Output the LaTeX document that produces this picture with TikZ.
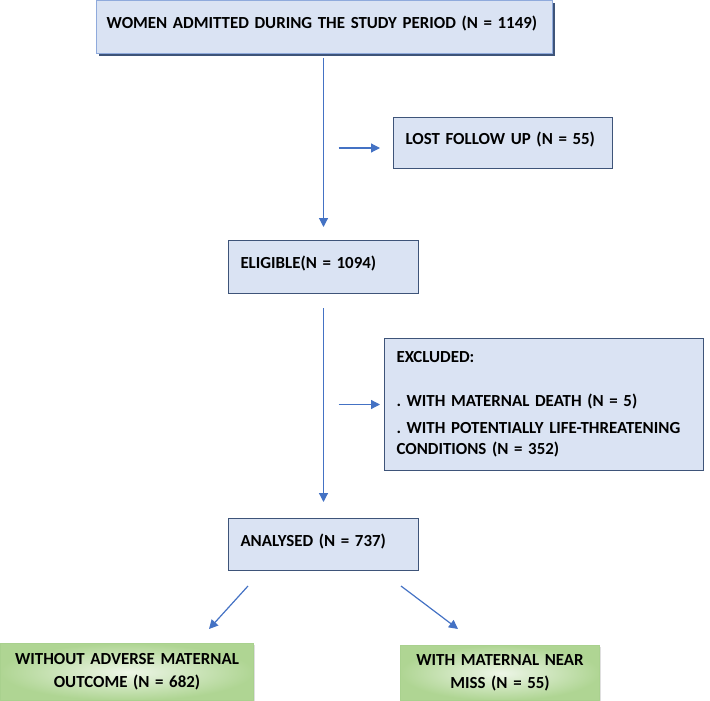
\documentclass[tikz,border=0pt]{standalone}
\usepackage{fontspec}
\setmainfont{Carlito}
\frenchspacing
\usetikzlibrary{arrows.meta, shadows}
\definecolor{boxfill}{HTML}{DAE3F3}
\definecolor{boxline}{HTML}{3E5479}
\definecolor{topline}{HTML}{8FAADC}
\definecolor{arrowblue}{HTML}{4472C4}
\definecolor{greenline}{HTML}{A9D18E}
\definecolor{greendark}{HTML}{AFD593}
\definecolor{greenlight}{HTML}{EEF6E8}

\begin{document}
\begin{tikzpicture}[x=1pt, y=-1pt,
	font=\fontsize{16.9}{21}\selectfont\bfseries,
	bluebox/.style={draw=boxline, fill=boxfill, line width=1pt, anchor=north west, align=left, inner xsep=12pt, inner ysep=4pt},
	greenbox/.style={draw=greenline, line width=1pt, outer color=greendark, inner color=greenlight, anchor=north west, align=center, inner sep=4pt, drop shadow={opacity=.25, shadow xshift=1.5pt, shadow yshift=-1.5pt}},
	arr/.style={draw=arrowblue, line width=1.2pt, -{Triangle[width=9pt,length=9pt]}}]
	\useasboundingbox (0,0) rectangle (710,701);

	\node[bluebox, draw=topline, line width=1.3pt, drop shadow={shadow xshift=2pt, shadow yshift=-2pt, fill=boxline, opacity=1}, inner xsep=10pt, text width=436pt, text height=23.5pt, text depth=21.5pt] (admitted) at (96,0) {WOMEN ADMITTED DURING THE STUDY PERIOD (N = 1149)};
	\node[bluebox, text width=195pt, text height=22.5pt, text depth=20.5pt] (lost) at (393,117) {LOST FOLLOW UP (N = 55)};
	\node[bluebox, text width=166pt, text height=23.5pt, text depth=21.5pt] (eligible) at (228,240) {ELIGIBLE(N = 1094)};
	\node[bluebox, text width=295pt, text height=19.5pt, text depth=104.5pt] (excluded) at (384,338) {EXCLUDED:\\[23pt]
		. WITH MATERNAL DEATH (N = 5)\\[6pt]
		. WITH POTENTIALLY LIFE-THREATENING\\
		CONDITIONS (N = 352)};
	\node[bluebox, text width=166pt, text height=23.5pt, text depth=20.5pt] (analysed) at (228,518) {ANALYSED (N = 737)};

	\node[greenbox, text width=245pt, minimum height=57pt] (withoutadverse) at (0,643) {WITHOUT ADVERSE MATERNAL\\[2pt] OUTCOME (N = 682)};
	\node[greenbox, text width=191pt, minimum height=55pt] (nearmiss) at (400,645) {WITH MATERNAL NEAR\\[2pt] MISS (N = 55)};

	% main flow
	\draw[arr, shorten <=4pt, shorten >=13pt] (admitted.south -| eligible.north) -- (eligible.north);
	\draw[arr, shorten <=14pt, shorten >=16pt] (eligible.south) -- (analysed.north);
	% losses
	\draw[arr, shorten >=13pt] ([xshift=15pt,yshift=-5pt]eligible.north |- lost.west) -- ([yshift=-5pt]lost.west);
	\draw[arr, shorten >=4pt] ([xshift=15pt]eligible.south |- excluded.west) -- (excluded.west);
	% outcomes
	\draw[arr] ([xshift=20pt,yshift=-15pt]analysed.south west) -- ([xshift=-45pt,yshift=14pt]withoutadverse.north east);
	\draw[arr] ([xshift=-18pt,yshift=-15pt]analysed.south east) -- ([xshift=-42pt,yshift=16pt]nearmiss.north);
\end{tikzpicture}
\end{document}
